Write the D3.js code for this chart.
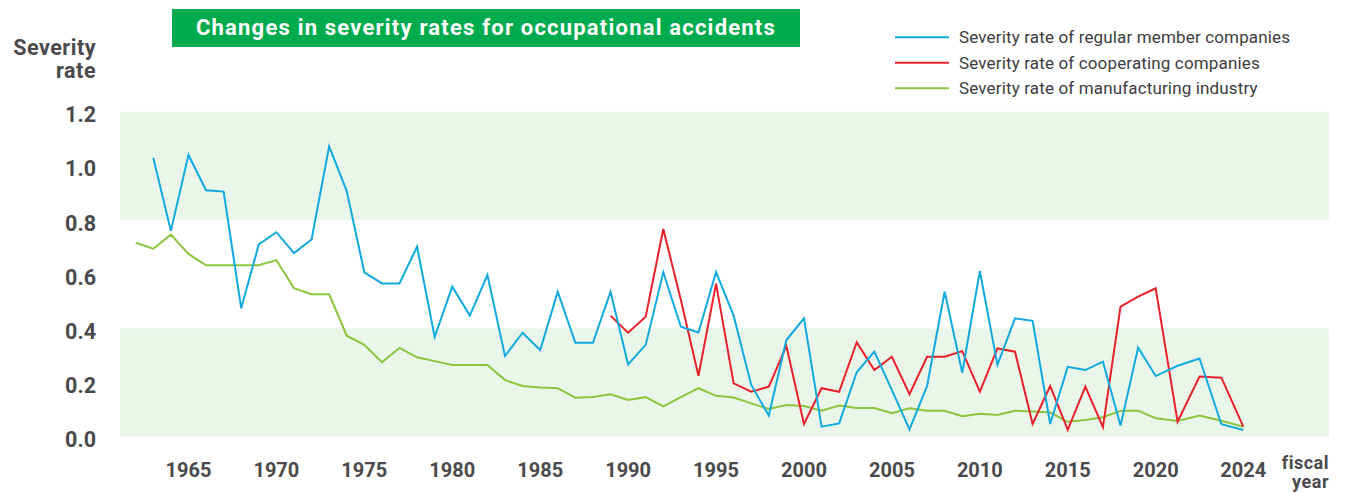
<!DOCTYPE html>
<html>
<head>
<meta charset="utf-8">
<script src="https://cdn.jsdelivr.net/npm/d3@7"></script>
<style>
   body { margin: 0; background: #fff; }
   svg text { font-family: Roboto, "Noto Sans", sans-serif; }
</style>
</head>
<body>
<svg id="chart" width="1345" height="493"></svg>
<script>
// fiscal years on the x axis
const years = d3.range( 1962, 2025 );
const xTickYears = [ 1965, 1970, 1975, 1980, 1985, 1990, 1995, 2000, 2005, 2010, 2015, 2020, 2024 ];
const yTicks = [ 0, 0.2, 0.4, 0.6, 0.8, 1.0, 1.2 ];
const bands = [ [ 0, 0.4 ], [ 0.8, 1.2 ] ];

// severity rate of regular member companies, 1962..2024 (null = no data)
const regularMembers = [
   null, 1.03, 0.76, 1.04, 0.91, 0.905, 0.474, 0.71, 0.755, 0.678,
   0.728, 1.072, 0.907, 0.607, 0.566, 0.566, 0.702, 0.368, 0.554, 0.447,
   0.597, 0.298, 0.384, 0.32, 0.535, 0.347, 0.347, 0.535, 0.267, 0.339,
   0.607, 0.406, 0.385, 0.608, 0.447, 0.191, 0.078, 0.357, 0.437, 0.037,
   0.049, 0.238, 0.314, 0.172, 0.027, 0.187, 0.535, 0.236, 0.612, 0.265,
   0.437, 0.428, 0.047, 0.258, 0.246, 0.277, 0.041, 0.329, 0.224, 0.262,
   0.289, 0.046, 0.025
];

// severity rate of cooperating companies, from 1989
const cooperating = [
   null, null, null, null, null, null, null, null, null, null,
   null, null, null, null, null, null, null, null, null, null,
   null, null, null, null, null, null, null, 0.447, 0.384, 0.443,
   0.767, 0.505, 0.225, 0.565, 0.197, 0.166, 0.185, 0.335, 0.047, 0.179,
   0.166, 0.349, 0.246, 0.295, 0.157, 0.295, 0.295, 0.316, 0.166, 0.326,
   0.314, 0.047, 0.187, 0.025, 0.185, 0.035, 0.48, 0.517, 0.548, 0.055,
   0.222, 0.218, 0.037
];

// severity rate of manufacturing industry
const manufacturing = [
   0.716, 0.694, 0.746, 0.675, 0.633, 0.633, 0.633, 0.633, 0.652, 0.548,
   0.526, 0.526, 0.373, 0.339, 0.275, 0.328, 0.293, 0.279, 0.265, 0.265,
   0.265, 0.209, 0.187, 0.182, 0.179, 0.144, 0.147, 0.157, 0.136, 0.146,
   0.112, 0.146, 0.179, 0.151, 0.145, 0.123, 0.102, 0.117, 0.113, 0.096,
   0.115, 0.106, 0.106, 0.087, 0.105, 0.096, 0.096, 0.076, 0.085, 0.08,
   0.096, 0.093, 0.089, 0.055, 0.062, 0.072, 0.096, 0.096, 0.068, 0.058,
   0.078, 0.059, 0.037
];

const seriesNames = [
   'Severity rate of regular member companies',
   'Severity rate of cooperating companies',
   'Severity rate of manufacturing industry'
];
const seriesColors = [ '#10aade', '#e8212b', '#8cc63f' ];
const seriesValues = [ regularMembers, cooperating, manufacturing ];

const textColor = '#4a4a4c';
const svg = d3.select( '#chart' );

// the last few fiscal years are drawn a little wider apart
const x = d3.scaleLinear().domain( [ 1962, 2020, 2024 ] ).range( [ 135.7, 1155.7, 1243.3 ] );
const y = d3.scaleLinear().domain( [ 0, 1.2 ] ).range( [ 436.7, 111.7 ] );
const plotLeft = 120, plotRight = 1329;

svg.selectAll( 'rect.band' )
   .data( bands )
   .join( 'rect' )
   .attr( 'class', 'band' )
   .attr( 'x', plotLeft )
   .attr( 'width', plotRight - plotLeft )
   .attr( 'y', d => y( d[ 1 ] ) )
   .attr( 'height', d => y( d[ 0 ] ) - y( d[ 1 ] ) )
   .attr( 'fill', '#ebf6ea' );

// y tick labels
svg.selectAll( 'text.ytick' )
   .data( yTicks )
   .join( 'text' )
   .attr( 'class', 'ytick' )
   .attr( 'x', 96 )
   .attr( 'y', d => y( d ) + 10.5 )
   .attr( 'text-anchor', 'end' )
   .attr( 'font-size', 21.5 )
   .attr( 'font-weight', 'bold' )
   .attr( 'fill', textColor )
   .text( d => d.toFixed( 1 ) );

// x tick labels
svg.selectAll( 'text.xtick' )
   .data( xTickYears )
   .join( 'text' )
   .attr( 'class', 'xtick' )
   .attr( 'x', d => x( d ) )
   .attr( 'y', 477 )
   .attr( 'text-anchor', 'middle' )
   .attr( 'font-size', 20 )
   .attr( 'font-weight', 'bold' )
   .attr( 'fill', textColor )
   .text( d => d );

const axisTitle = ( lines, xPos, yPos, lineHeight, size ) => {
   lines.forEach( ( line, i ) => {
      svg.append( 'text' )
         .attr( 'x', xPos )
         .attr( 'y', yPos + i * lineHeight )
         .attr( 'text-anchor', 'end' )
         .attr( 'font-size', size )
         .attr( 'font-weight', 'bold' )
         .attr( 'letter-spacing', 0.5 )
         .attr( 'fill', textColor )
         .text( line );
   } );
};
axisTitle( [ 'Severity', 'rate' ], 96, 55, 23, 21.5 );
axisTitle( [ 'fiscal', 'year' ], 1329, 469, 19, 18 );

// series lines
const line = d3.line()
   .defined( d => d[ 1 ] != null )
   .x( d => x( d[ 0 ] ) )
   .y( d => y( d[ 1 ] ) );

// green first so the others sit on top of it
[ 2, 1, 0 ].forEach( i => {
   svg.append( 'path' )
      .datum( years.map( ( yr, j ) => [ yr, seriesValues[ i ][ j ] ] ) )
      .attr( 'fill', 'none' )
      .attr( 'stroke', seriesColors[ i ] )
      .attr( 'stroke-width', 2 )
      .attr( 'stroke-linejoin', 'miter' )
      .attr( 'd', line );
} );

// title box
svg.append( 'rect' )
   .attr( 'x', 172 ).attr( 'y', 9 )
   .attr( 'width', 628 ).attr( 'height', 38 )
   .attr( 'fill', '#00ab4e' );
svg.append( 'text' )
   .attr( 'x', 486 ).attr( 'y', 35 )
   .attr( 'text-anchor', 'middle' )
   .attr( 'font-size', 22 )
   .attr( 'font-weight', 'bold' )
   .attr( 'letter-spacing', 1.2 )
   .attr( 'fill', '#fff' )
   .text( 'Changes in severity rates for occupational accidents' );

// legend
const legend = svg.selectAll( 'g.legend' )
   .data( seriesNames )
   .join( 'g' )
   .attr( 'class', 'legend' )
   .attr( 'transform', ( d, i ) => `translate(895, ${ 37.3 + i * 25.5 })` );
legend.append( 'line' )
   .attr( 'x1', 0 ).attr( 'x2', 54 )
   .attr( 'stroke', ( d, i ) => seriesColors[ i ] )
   .attr( 'stroke-width', 2 );
legend.append( 'text' )
   .attr( 'x', 64 )
   .attr( 'y', 6 )
   .attr( 'font-size', 17 )
   .attr( 'letter-spacing', 0.15 )
   .attr( 'fill', '#3c3c3e' )
   .text( d => d );
</script>
</body>
</html>
